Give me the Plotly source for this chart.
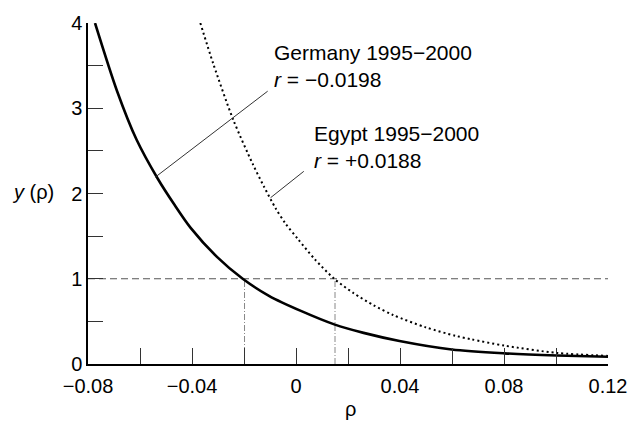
import plotly.graph_objects as go

# ---- data ----
germany_rho = [-0.0773, -0.0688, -0.0613, -0.0531, -0.0468, -0.0406, -0.0305, -0.0205,
               -0.0104, 0.0021, 0.0147, 0.0260, 0.0398, 0.0599, 0.0802, 0.1003, 0.12]
germany_y = [4.0, 3.2, 2.63, 2.17, 1.87, 1.60, 1.26, 1.0,
             0.80, 0.62, 0.465, 0.365, 0.27, 0.17, 0.125, 0.10, 0.085]

egypt_rho = [-0.0368, -0.0318, -0.0242, -0.0167, -0.0123, -0.0079, -0.0041, 0.0009, 0.0072,
             0.0147, 0.0222, 0.0298, 0.0373, 0.0499, 0.0614, 0.0674, 0.0802, 0.1003, 0.12]
egypt_y = [4.0, 3.52, 2.87, 2.35, 2.08, 1.83, 1.65, 1.46, 1.23,
           1.0, 0.83, 0.69, 0.575, 0.43, 0.33, 0.29, 0.215, 0.13, 0.095]

germany_r_line = -0.0198
egypt_r_line = 0.015
ref_level = 1.0

x_tickvals = [-0.08, -0.06, -0.04, -0.02, 0.0, 0.02, 0.04, 0.06, 0.08, 0.10, 0.12]
x_ticktext = ["\u22120.08", "", "\u22120.04", "", "0", "", "0.04", "", "0.08", "", "0.12"]
y_tickvals = [0, 0.5, 1, 1.5, 2, 2.5, 3, 3.5, 4]
y_ticktext = ["0", "", "1", "", "2", "", "3", "", "4"]

germany_label = ["Germany 1995\u22122000", "<i>r</i> = \u22120.0198"]
egypt_label = ["Egypt 1995\u22122000", "<i>r</i> = +0.0188"]

FONT = "Liberation Sans, Arial, Helvetica, sans-serif"

fig = go.Figure()

# reference line y = 1
fig.add_trace(go.Scatter(x=[-0.08, 0.12], y=[ref_level, ref_level], mode="lines",
                         line=dict(color="#555555", width=1, dash="7px,4px"),
                         hoverinfo="skip"))
# vertical dash-dot lines at r
for xv in (germany_r_line, egypt_r_line):
    fig.add_trace(go.Scatter(x=[xv, xv], y=[0, ref_level], mode="lines",
                             line=dict(color="#888888", width=1, dash="6px,2px,1px,2px"),
                             hoverinfo="skip"))

fig.add_trace(go.Scatter(x=germany_rho, y=germany_y, mode="lines",
                         line=dict(color="black", width=2.6, shape="spline", smoothing=0.8)))
fig.add_trace(go.Scatter(x=egypt_rho, y=egypt_y, mode="lines",
                         line=dict(color="black", width=2, dash="2px,3px",
                                   shape="spline", smoothing=0.8)))

# leader lines
fig.add_shape(type="line", x0=-0.0542, y0=2.19, x1=-0.0109, y1=3.2,
              line=dict(color="#333333", width=1))
fig.add_shape(type="line", x0=-0.0098, y0=1.95, x1=0.003, y1=2.26,
              line=dict(color="#333333", width=1))

def label(x, y, text):
    fig.add_annotation(x=x, y=y, text=text, showarrow=False, xanchor="left",
                       yanchor="middle", font=dict(size=21, color="black", family=FONT))

label(-0.0094, 3.65, germany_label[0])
label(-0.0094, 3.34, germany_label[1])
label(0.006, 2.70, egypt_label[0])
label(0.006, 2.39, egypt_label[1])

# axis titles as annotations (horizontal y title)
fig.add_annotation(x=-0.1507, xref="paper", y=2.02, text="<i>y</i> (\u03c1)", showarrow=False,
                   xanchor="left", yanchor="middle", font=dict(size=20, color="black", family=FONT))
fig.add_annotation(x=0.021, y=-0.131, yref="paper", text="\u03c1", showarrow=False,
                   xanchor="center", yanchor="middle", font=dict(size=20, color="black", family=FONT))

fig.update_xaxes(range=[-0.08, 0.12], showline=True, linecolor="black", linewidth=1.5,
                 ticks="inside", ticklen=16, tickwidth=1, tickcolor="#333333",
                 tickvals=x_tickvals, ticktext=x_ticktext, showgrid=False, zeroline=False,
                 ticklabelstandoff=3,
                 tickfont=dict(size=20, color="black", family=FONT))
fig.update_yaxes(range=[0, 4], showline=True, linecolor="black", linewidth=1.5,
                 ticks="inside", ticklen=15, tickwidth=1, tickcolor="#333333",
                 tickvals=y_tickvals, ticktext=y_ticktext, showgrid=False, zeroline=False,
                 tickfont=dict(size=20, color="black", family=FONT))

fig.update_layout(width=639, height=421, margin=dict(l=88, r=20, t=14, b=57),
                  plot_bgcolor="white", paper_bgcolor="white", showlegend=False,
                  font=dict(family=FONT, color="black"))

fig.write_html("out.html")
